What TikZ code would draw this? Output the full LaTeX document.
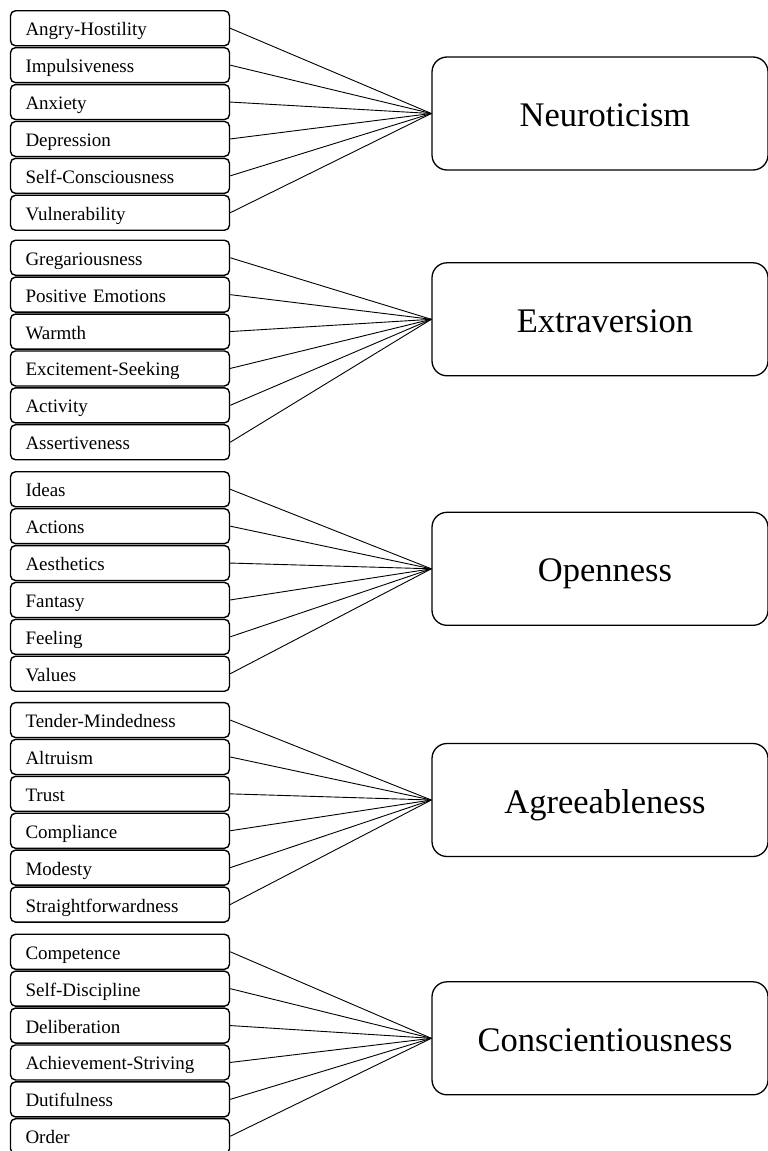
\documentclass[tikz,border=0pt]{standalone}
\usepackage{fontspec}
\setmainfont{Liberation Serif}
\usepackage{tikz}
\tikzset{
	factor/.style = {shape=rectangle, rounded corners=15pt, draw,
		line width=1.3pt, align=center, minimum width=336pt,
		minimum height=113pt, text height=28pt, text depth=2pt,
		font=\fontsize{34.5}{40}\selectfont},
	trait/.style  = {shape=rectangle, rounded corners=5pt, draw,
		line width=1.4pt, align=left, text width=189pt, inner xsep=15pt,
		minimum height=35pt, text height=17pt, text depth=2pt,
		font=\fontsize{19}{22}\selectfont}
}

\begin{document}
\begin{tikzpicture}
[
x = 1pt, y = 1pt,
grow                    = west,
parent anchor           = west,
child anchor            = east,
edge from parent/.style = {draw, line width=0.9pt},
level distance          = 480pt,
sibling distance        = 36.9pt
]
\useasboundingbox (0,0) rectangle (768,-1151);
\begin{scope}[every child node/.style={trait, yshift=-7pt}]
\node [factor] (neu) at (600,-113.5) {\hspace*{10pt}Neuroticism}
child { node (ah) {Angry-Hostility} }
child { node (imp) {Impulsiveness} }
child { node (anx) {Anxiety} }
child { node (dep) {Depression} }
child { node (sc) {Self-Consciousness} }
child { node (vul) {Vulnerability} };
\end{scope}
\begin{scope}[every child node/.style={trait, yshift=-30.7pt}]
\node [factor] (ext) at (600,-319.3) {\hspace*{10pt}Extraversion}
child { node (gre) {Gregariousness} }
child { node (pe) {Positive Emotions} }
child { node (war) {Warmth} }
child { node (es) {Excitement-Seeking} }
child { node (act) {Activity} }
child { node (ass) {Assertiveness} };
\end{scope}
\begin{scope}[every child node/.style={trait, yshift=-12.7pt}]
\node [factor] (ope) at (600,-568.8) {\hspace*{10pt}Openness}
child { node (ide) {Ideas} }
child { node (acn) {Actions} }
child { node (aes) {Aesthetics} }
child { node (fan) {Fantasy} }
child { node (fee) {Feeling} }
child { node (val) {Values} };
\end{scope}
\begin{scope}[every child node/.style={trait, yshift=-12.3pt}]
\node [factor] (agr) at (600,-800) {\hspace*{10pt}Agreeableness}
child { node (tm) {Tender-Mindedness} }
child { node (alt) {Altruism} }
child { node (tru) {Trust} }
child { node (com) {Compliance} }
child { node (mod) {Modesty} }
child { node (str) {Straightforwardness} };
\end{scope}
\begin{scope}[every child node/.style={trait, yshift=-5.7pt}]
\node [factor] (con) at (600,-1038.3) {\hspace*{10pt}Conscientiousness}
child { node (cmp) {Competence} }
child { node (sd) {Self-Discipline} }
child { node (del) {Deliberation} }
child { node (ach) {Achievement-Striving} }
child { node (dut) {Dutifulness} }
child { node (ord) {Order} };
\end{scope}
\end{tikzpicture}
\end{document}
